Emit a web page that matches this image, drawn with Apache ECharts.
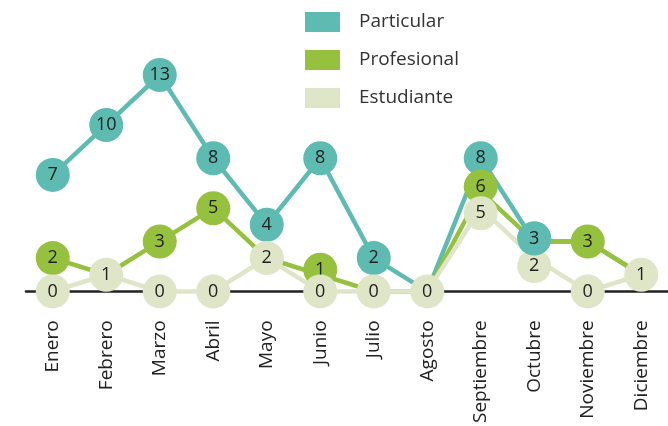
<!DOCTYPE html>
<html><head><meta charset="utf-8">
<script src="https://cdn.jsdelivr.net/npm/echarts@6/dist/echarts.min.js"></script>
<style>html,body{margin:0;padding:0;background:#fff}#c{width:668px;height:426px}</style>
</head><body><div id="c"></div>
<script>
const categories = ['Enero','Febrero','Marzo','Abril','Mayo','Junio','Julio','Agosto','Septiembre','Octubre','Noviembre','Diciembre'];
const particular = [7,10,13,8,4,8,2,0,8,3,3,1];
const profesional = [2,1,3,5,2,1,0,0,6,3,3,1];
const estudiante = [0,1,0,0,2,0,0,0,5,2,0,1];
const seriesNames = ['Particular','Profesional','Estudiante'];
const colors = ['#5ebbb2','#95c13e','#dfe5c7'];
// style: in the reference, the Particular marker of this month sits on top of the others
const raisedMonth = 'Octubre';
// style: small vertical pixel nudges the reference applies to crowded markers
const markerNudge = {
  Particular: {Octubre:-3},
  Profesional: {Septiembre:-5, Junio:-5},
  Estudiante: {Septiembre:5, Octubre:8}
};

const font = '"Open Sans", "Noto Sans", sans-serif';
const all = [particular, profesional, estudiante];
const raisedIdx = categories.indexOf(raisedMonth);
function nudge(si,k){ return (markerNudge[seriesNames[si]]||{})[categories[k]]||0; }
function isHidden(si, k){
  if (k===raisedIdx) {
    if (si===0) return false;
    return all[si][k]===all[0][k];
  }
  for (let j=si+1;j<all.length;j++){
    if (all[j][k]===all[si][k]) return true;
  }
  return false;
}
function mk(si){
  const color = colors[si];
  const data = all[si].map((v,k)=>{
    if (isHidden(si,k)) return {value:v, symbolSize:0, label:{show:false}};
    const n = nudge(si,k);
    return n ? {value:v, symbolOffset:[0,n]} : {value:v};
  });
  const s = {
    name: seriesNames[si], type:'line', data, color,
    symbol:'circle', symbolSize:34, showAllSymbol:true,
    lineStyle:{width:4.5,color},
    itemStyle:{color},
    clip:false,
    z: 2 + si,
    label:{show:true,position:'inside',color:'#222',fontSize:18,fontFamily:font},
    emphasis:{disabled:true},
    animation:false
  };
  if (si===0) {
    s.markPoint = {
      z: 6, symbol:'circle', symbolSize:34, animation:false, silent:true,
      symbolOffset:[0, nudge(0, raisedIdx)],
      itemStyle:{color, borderWidth:0},
      label:{show:true,position:'inside',color:'#222',fontSize:18,fontFamily:font,formatter:'{c}'},
      data:[{coord:[raisedIdx, particular[raisedIdx]], value: particular[raisedIdx]}]
    };
  }
  return s;
}
const chart = echarts.init(document.getElementById('c'));
chart.setOption({
  animation:false,
  legend:{
    orient:'vertical', left:305, top:12, padding:0, itemWidth:35, itemHeight:20, itemGap:18,
    icon:'rect',
    textStyle:{fontSize:19,color:'#333',fontFamily:font,padding:[0,0,0,14]},
    data:seriesNames
  },
  grid:{left:26,right:-10,top:75,bottom:134},
  xAxis:{
    type:'category', data:categories, boundaryGap:true,
    axisLine:{lineStyle:{color:'#222',width:2.5}},
    axisTick:{show:false},
    axisLabel:{rotate:90,interval:0,margin:29,fontSize:19,color:'#222',fontFamily:font}
  },
  yAxis:{type:'value',min:0,max:13,show:false,splitLine:{show:false}},
  series:[mk(0),mk(1),mk(2)]
});
</script></body></html>
